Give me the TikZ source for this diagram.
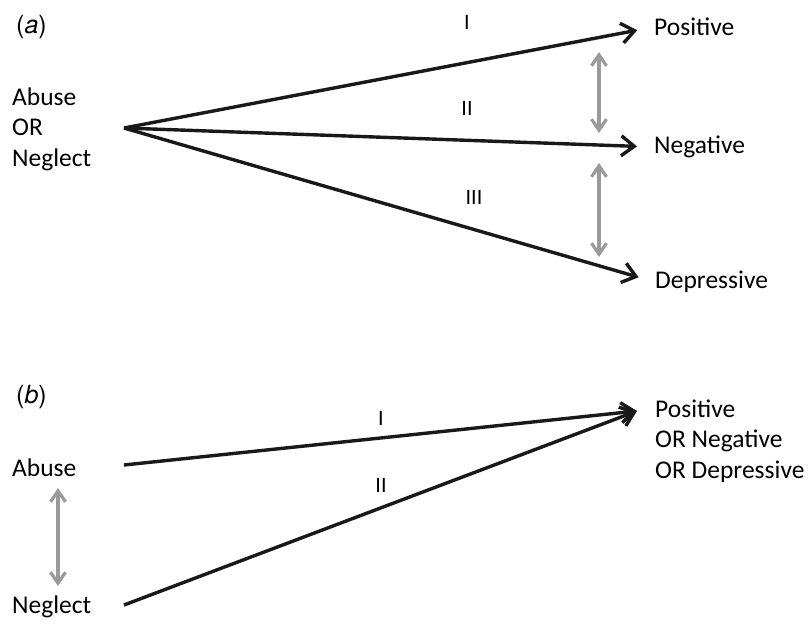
\documentclass[tikz,border=0pt]{standalone}
\usepackage{fontspec}
\setmainfont{Carlito}
\newfontfamily\panelfont{TeX Gyre Heros}
\usepackage{xcolor}
\usetikzlibrary{arrows.meta,positioning}

\definecolor{linkgray}{HTML}{9A9A9A}

\begin{document}
\begin{tikzpicture}[
    x=1pt, y=-1pt,
    var/.style={inner sep=0pt, align=left, font=\fontsize{25.5}{30.5}\selectfont},
    panel/.style={inner sep=0pt, font=\panelfont\fontsize{25}{28}\selectfont},
    num/.style={inner sep=0pt, font=\fontsize{22}{26}\selectfont},
    path/.style={-{Straight Barb[length=13pt, width=20pt, line width=3.4pt]}, line width=3.4pt, black!90},
    link/.style={{Straight Barb[length=11pt, width=15pt, line width=3.2pt]}-{Straight Barb[length=11pt, width=15pt, line width=3.2pt]}, line width=3.2pt, linkgray}
  ]
    \useasboundingbox (0,0) rectangle (811,625);

    % panel (a)
    \node[panel, anchor=west] (pa) at (16,27) {(\textit{a})};
    \node[var, anchor=west] (exA) at (12,129) {Abuse\\OR\\Neglect};
    \coordinate (srcA) at (124,128);
    \node[var, anchor=west] (posA) at (654,27) {Positive};
    \node[var, anchor=west] (negA) at (654,147) {Negative};
    \node[var, anchor=west] (depA) at (655,282) {Depressive};

    \draw[path, shorten >=17pt] (srcA) -- (posA.west);
    \draw[path, shorten >=17pt] (srcA) -- (negA.west);
    \draw[path, shorten >=17pt] (srcA) -- (depA.west);

    \node[num] (oneA) at (467,22) {I};
    \node[num] (twoA) at (467,108) {II};
    \node[num] (threeA) at (474,197) {III};

    \coordinate (lkA1) at (599,52);
    \coordinate (lkA2) at (599,133);
    \coordinate (lkA3) at (599,163);
    \coordinate (lkA4) at (599,257);
    \draw[link] (lkA1) -- (lkA2);
    \draw[link] (lkA3) -- (lkA4);

    % panel (b)
    \node[panel, anchor=west] (pb) at (16,397) {(\textit{b})};
    \node[var, anchor=west] (abB) at (12,468) {Abuse};
    \node[var, anchor=west] (neB) at (12,607) {Neglect};
    \node[var, anchor=west] (outB) at (655,441) {Positive\\OR Negative\\OR Depressive};
    \coordinate (srcB1) at (124,465);
    \coordinate (srcB2) at (124,605);
    \coordinate (tgtB) at (637,411);

    \draw[path] (srcB1) -- (tgtB);
    \draw[path] (srcB2) -- (tgtB);

    \node[num] (oneB) at (381,418) {I};
    \node[num] (twoB) at (381,485) {II};

    \coordinate (lkB1) at (58,488);
    \coordinate (lkB2) at (58,586);
    \draw[link] (lkB1) -- (lkB2);
  \end{tikzpicture}
\end{document}
